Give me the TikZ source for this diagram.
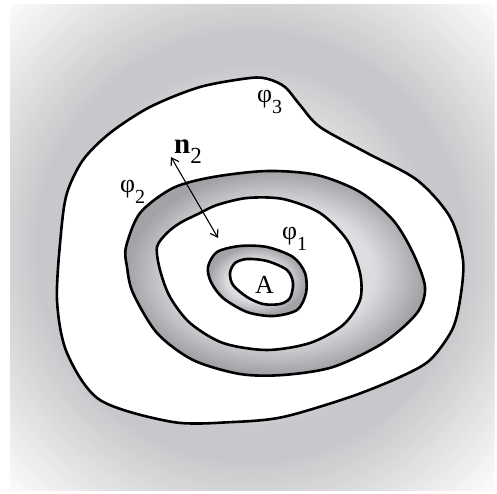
\documentclass[tikz,border=0pt]{standalone}
\usepackage{fontspec}
\setmainfont{Liberation Serif}
\usetikzlibrary{arrows.meta}

\definecolor{bggray}{RGB}{199,200,203}
\definecolor{ringlight}{RGB}{220,221,224}
\definecolor{ringdark}{RGB}{162,163,166}

\tikzset{
  contour/.style={line width=2.6pt, line join=round},
  lab/.style={inner sep=0pt, anchor=base west, font=\fontsize{26}{26}\selectfont},
}
\newcommand{\phisub}[1]{φ\raisebox{-11pt}{\fontsize{20}{20}\selectfont #1}}

\begin{document}
\begin{tikzpicture}[x=1pt, y=-1pt]

    \useasboundingbox (0,0) rectangle (497,493);

    % Background glow
    \begin{scope}
        \clip (10,4) rectangle (494,490);
        \foreach \r in {348,345,...,0} {
            \pgfmathtruncatemacro{\p}{\r<60 ? 0 : (\r<185 ? (\r-60)/1.25 : (\r<215 ? 100 : max(4,100-(\r-215)*0.73)))}
            \fill[bggray!\p!white] (251,247) circle [radius=\r pt];
        }
    \end{scope}

    % Outer level set phi_3
    \filldraw[contour, fill=white] plot[smooth cycle] coordinates {
        (250,78) (200,87) (150,107) (110,133) (83,160) (67,193) (61,233)
        (57,300) (67,353) (100,400) (173,422) (233,422) (283,417)
        (350,397) (400,377) (430,360) (452,330) (460,300) (463,260)
        (450,217) (417,180) (367,153) (320,127) (300,105) (285,87)
        (268,79)};

    % Level set phi_2 (gray band)
    \begin{scope}
        \clip plot[smooth cycle] coordinates {
            (126,247) (140,213) (173,188) (213,177) (267,171) (317,175)
            (360,192) (393,220) (413,253) (425,287) (417,313) (383,343)
            (333,367) (283,375) (240,374) (193,360) (157,333) (133,293)
            (127,267)};
        \foreach \k in {1.12,1.10,...,0.58} {
            \pgfmathtruncatemacro{\p}{\k<0.66 ? 0 : (\k<1 ? (\k-0.66)/0.0034 : 100)}
            \fill[ringdark!\p!ringlight] (276,273) ellipse [x radius=150pt*\k, y radius=102pt*\k];
        }
    \end{scope}
    \draw[contour] plot[smooth cycle] coordinates {
        (126,247) (140,213) (173,188) (213,177) (267,171) (317,175)
        (360,192) (393,220) (413,253) (425,287) (417,313) (383,343)
        (333,367) (283,375) (240,374) (193,360) (157,333) (133,293)
        (127,267)};
    \filldraw[contour, fill=white] plot[smooth cycle] coordinates {
        (157,247) (167,233) (180,223) (200,213) (217,205) (247,198)
        (283,199) (320,213) (347,240) (360,273) (360,300) (343,325)
        (310,343) (267,350) (223,343) (190,323) (170,297) (160,270)};

    % Level set phi_1 around A
    \begin{scope}
        \clip plot[smooth cycle] coordinates {
            (208,267) (217,252) (240,246) (267,247) (293,257) (305,273)
            (306,293) (297,310) (273,316) (247,312) (223,298) (211,282)};
        \foreach \k in {1.16,1.12,...,0.5} {
            \pgfmathtruncatemacro{\p}{\k<0.62 ? 0 : (\k<1 ? (\k-0.62)/0.0038 : 100)}
            \fill[ringdark!\p!ringlight] (257,281) ellipse [x radius=49pt*\k, y radius=35pt*\k];
        }
    \end{scope}
    \draw[contour] plot[smooth cycle] coordinates {
        (208,267) (217,252) (240,246) (267,247) (293,257) (305,273)
        (306,293) (297,310) (273,316) (247,312) (223,298) (211,282)};
    \filldraw[contour, fill=white] plot[smooth cycle] coordinates {
        (230,273) (235,263) (247,259) (267,261) (287,270) (293,283)
        (290,298) (280,304) (263,304) (247,297) (233,285)};

    % Normal n_2
    \coordinate (n2out) at (171,157);
    \coordinate (n2in) at (218,238);
    \draw[{Straight Barb[length=7pt,width=9pt]}-{Straight Barb[length=7pt,width=9pt]}, line width=1.1pt] (n2out) -- (n2in);

    % Labels
    \node[lab] (phi3) at (257,102) {\phisub{3}};
    \node[lab] (phi2) at (120,192) {\phisub{2}};
    \node[lab] (phi1) at (282,239) {\phisub{1}};
    \node[lab] (n2) at (174,153) {\fontsize{29}{29}\selectfont\textbf{n}\raisebox{-10pt}{\fontsize{23}{23}\selectfont 2}};
    \node[lab] (A) at (255,293) {A};

\end{tikzpicture}
\end{document}
